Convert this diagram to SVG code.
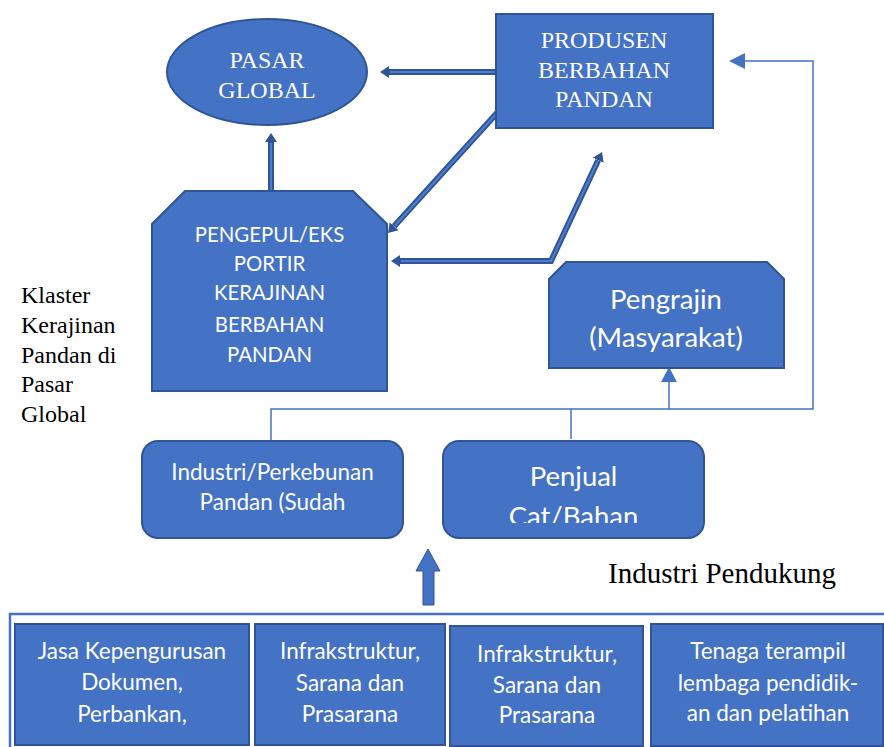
<svg xmlns="http://www.w3.org/2000/svg" width="884" height="747" viewBox="0 0 884 747">
<style>
.node{fill:#4472C4;stroke:#2F5597;stroke-width:2}
.serif{font-family:"Liberation Serif","Times New Roman",serif;fill:#ffffff;text-anchor:middle}
.sans{font-family:Lato,"Open Sans",sans-serif;fill:#ffffff;text-anchor:middle}
.blk{font-family:"Liberation Serif","Times New Roman",serif;fill:#000000}
.thick{fill:none;stroke:#2F5597;stroke-width:6;stroke-linejoin:miter}
.thin-in{fill:none;stroke:#4E7DCB;stroke-width:2}
.thin{fill:none;stroke:#4472C4;stroke-width:1.5}
.b{font-size:22.5px}
</style>
<defs>
<marker id="ah" markerUnits="userSpaceOnUse" markerWidth="12" markerHeight="14" viewBox="0 -7 12 14" refX="0" refY="0" orient="auto-start-reverse">
<path d="M0,-6 L9,0 L0,6 z" fill="#2F5597"/>
</marker>
<clipPath id="clipCat"><rect x="443" y="441" width="262" height="82"/></clipPath>
</defs>

<g id="connectors">
<path class="thick" d="M497,72 L389,72" marker-end="url(#ah)"/>
<path class="thin-in" d="M497,72 L390,72"/>
<path class="thick" d="M271,190 L271,142" marker-end="url(#ah)"/>
<path class="thin-in" d="M271,190 L271,143"/>
<path class="thick" d="M497,113 L394.1,226.3" marker-end="url(#ah)"/>
<path class="thin-in" d="M497,113 L395,225.5"/>
<path class="thick" d="M400,261 L551,261 L598.2,160.2" marker-start="url(#ah)" marker-end="url(#ah)"/>
<path class="thin-in" d="M401,261 L551,261 L597.8,161"/>
<path class="thin" d="M745,61 L813,61 L813,409 L271,409 L271,441"/>
<path class="thin" d="M571,409 L571,439"/>
<path class="thin" d="M669,409 L669,382"/>
<polygon points="729,61 745,53 745,69" fill="#4472C4"/>
<polygon points="669,367 661,382 677,382" fill="#4472C4"/>
<polygon points="428,549 440,571 434,571 434,605 423,605 423,571 416,571" fill="#4472C4" stroke="#2F5597" stroke-width="1"/>
<path d="M884,614 L10,614 L10,747" fill="none" stroke="#4472C4" stroke-width="2.5"/>
</g>

<g id="pasar-global">
<ellipse class="node" cx="267" cy="72" rx="100" ry="53"/>
<text class="serif" font-size="24" x="267" y="68">PASAR</text>
<text class="serif" font-size="24" x="267" y="98">GLOBAL</text>
</g>

<g id="produsen">
<rect class="node" x="496" y="14" width="217" height="114"/>
<text class="serif" font-size="24" x="604" y="48">PRODUSEN</text>
<text class="serif" font-size="24" x="604" y="78">BERBAHAN</text>
<text class="serif" font-size="24" x="604" y="107">PANDAN</text>
</g>

<g id="pengepul">
<polygon class="node" points="185,191 353,191 387,224 387,391 152,391 152,224"/>
<text class="sans" font-size="20.4" x="269.5" y="242">PENGEPUL/EKS</text>
<text class="sans" font-size="20.4" x="269.5" y="271">PORTIR</text>
<text class="sans" font-size="20.4" x="269.5" y="300">KERAJINAN</text>
<text class="sans" font-size="20.4" x="269.5" y="332">BERBAHAN</text>
<text class="sans" font-size="20.4" x="269.5" y="362">PANDAN</text>
</g>

<g id="pengrajin">
<polygon class="node" points="566,262 767,262 784,279 784,368 549,368 549,279"/>
<text class="sans" font-size="27.5" x="666" y="309">Pengrajin</text>
<text class="sans" font-size="27.5" x="666" y="347">(Masyarakat)</text>
</g>

<g id="klaster-label">
<text class="blk" font-size="24" x="21" y="303">Klaster</text>
<text class="blk" font-size="24" x="21" y="333">Kerajinan</text>
<text class="blk" font-size="24" x="21" y="363">Pandan di</text>
<text class="blk" font-size="24" x="21" y="392">Pasar</text>
<text class="blk" font-size="24" x="21" y="422">Global</text>
</g>

<g id="industri-perkebunan">
<rect class="node" x="142" y="441" width="261" height="97" rx="16"/>
<text class="sans" font-size="22.5" x="272.5" y="480">Industri/Perkebunan</text>
<text class="sans" font-size="22.5" x="272.5" y="510">Pandan (Sudah</text>
</g>

<g id="penjual">
<rect class="node" x="443" y="441" width="261" height="97" rx="16"/>
<text class="sans" font-size="27.5" x="573.5" y="486">Penjual</text>
<text class="sans" font-size="27.5" x="573.5" y="526" clip-path="url(#clipCat)">Cat/Bahan</text>
</g>

<g id="industri-pendukung-label">
<text class="blk" font-size="29" x="608" y="583">Industri Pendukung</text>
</g>

<g id="jasa">
<rect class="node" x="15" y="624" width="234" height="121"/>
<text class="sans b" x="132" y="659">Jasa Kepengurusan</text>
<text class="sans b" x="132" y="690">Dokumen,</text>
<text class="sans b" x="132" y="722">Perbankan,</text>
</g>

<g id="infra-1">
<rect class="node" x="255" y="624" width="190" height="121"/>
<text class="sans b" x="350" y="659">Infrakstruktur,</text>
<text class="sans b" x="350" y="691">Sarana dan</text>
<text class="sans b" x="350" y="722">Prasarana</text>
</g>

<g id="infra-2">
<rect class="node" x="450" y="626" width="193" height="120"/>
<text class="sans b" x="547" y="662">Infrakstruktur,</text>
<text class="sans b" x="547" y="693">Sarana dan</text>
<text class="sans b" x="547" y="723">Prasarana</text>
</g>

<g id="tenaga">
<rect class="node" x="651" y="624" width="232" height="122"/>
<text class="sans b" x="768" y="659">Tenaga terampil</text>
<text class="sans b" x="768" y="691">lembaga pendidik-</text>
<text class="sans b" x="768" y="721">an dan pelatihan</text>
</g>
</svg>
